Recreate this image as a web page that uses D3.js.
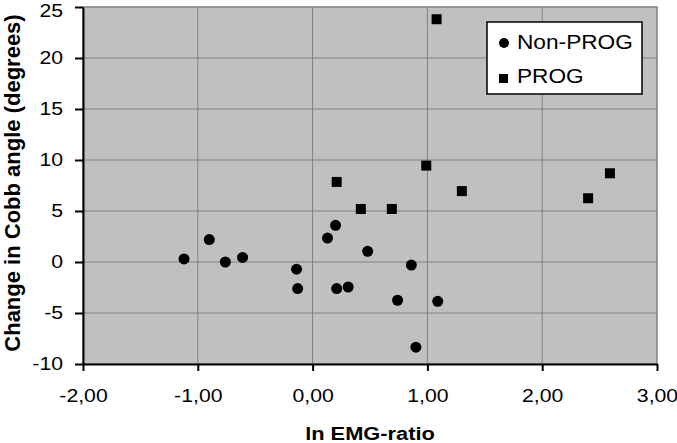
<!DOCTYPE html>
<html><head><meta charset="utf-8">
<script src="https://cdn.jsdelivr.net/npm/d3@7"></script>
<style>body{margin:0;background:#fff}svg{display:block}text{font-family:"Liberation Sans",Arial,sans-serif;fill:#000}</style>
</head><body>
<script>
const nonProgX = [-1.12,-0.90,-0.76,-0.61,-0.14,-0.13,0.13,0.20,0.21,0.31,0.48,0.74,0.86,0.90,1.09];
const nonProgY = [0.3,2.2,0.0,0.45,-0.7,-2.6,2.35,3.6,-2.6,-2.45,1.05,-3.75,-0.3,-8.35,-3.85];
const progX = [1.08,0.21,0.42,0.69,0.99,1.30,2.40,2.59];
const progY = [23.8,7.85,5.2,5.2,9.45,6.95,6.25,8.7];
const xTicks = [-2,-1,0,1,2,3];
const yTicks = [-10,-5,0,5,10,15,20,25];
const seriesNames = ["Non-PROG","PROG"];
const xTitle = "ln EMG-ratio";
const yTitle = "Change in Cobb angle (degrees)";

const W=677,H=443, SX=1.18;
const m={l:83,r:20,t:7,b:79};
const svg=d3.select("body").append("svg").attr("width",W).attr("height",H);
const x=d3.scaleLinear().domain([-2,3]).range([m.l,W-m.r]);
const y=d3.scaleLinear().domain([-10,25]).range([H-m.b,m.t]);
const loc=d3.formatLocale({decimal:",",thousands:".",grouping:[3],currency:["",""],minus:"-"});
const fx=loc.format(".2f"), fy=loc.format("d");
const stretch=(ax,s=SX)=>`translate(${ax},0) scale(${s},1) translate(${-ax},0)`;

svg.append("rect").attr("x",x(-2)).attr("y",y(25)).attr("width",x(3)-x(-2)).attr("height",y(-10)-y(25))
  .attr("fill","#c0c0c0").attr("stroke","#808080").attr("stroke-width",1.5);
const g=svg.append("g");
g.selectAll(".gx").data(xTicks.slice(1,-1)).join("line").attr("x1",d=>x(d)).attr("x2",d=>x(d))
  .attr("y1",y(-10)).attr("y2",y(25)).attr("stroke","#808080").attr("stroke-width",1);
g.selectAll(".gy").data(yTicks.slice(1,-1)).join("line").attr("y1",d=>y(d)).attr("y2",d=>y(d))
  .attr("x1",x(-2)).attr("x2",x(3)).attr("stroke","#808080").attr("stroke-width",1);

const xa=svg.append("g").attr("transform",`translate(0,${y(-10)})`)
  .call(d3.axisBottom(x).tickValues(xTicks).tickFormat(fx).tickSizeInner(7).tickSizeOuter(0).tickPadding(18));
const ya=svg.append("g").attr("transform",`translate(${x(-2)},0)`)
  .call(d3.axisLeft(y).tickValues(yTicks).tickFormat(fy).tickSizeInner(8).tickSizeOuter(0).tickPadding(12));
[xa,ya].forEach(a=>{a.selectAll("path,line").attr("stroke","#000").attr("stroke-width",2);
  a.selectAll("text").style("font-size","18px").style("font-family",'"Liberation Sans",Arial,sans-serif').attr("fill","#000");});
xa.selectAll("text").attr("transform",stretch(0));
ya.selectAll("text").attr("transform",stretch(-20));
ya.selectAll("text").filter(d=>d===25).attr("dy","0.52em");

svg.selectAll(".c").data(nonProgX.map((v,i)=>[v,nonProgY[i]])).join("circle")
  .attr("cx",d=>x(d[0])).attr("cy",d=>y(d[1])).attr("r",5.5).attr("fill","#000");
svg.selectAll(".s").data(progX.map((v,i)=>[v,progY[i]])).join("rect")
  .attr("x",d=>x(d[0])-5).attr("y",d=>y(d[1])-5).attr("width",10).attr("height",10).attr("fill","#000");

const lg=svg.append("g").attr("transform","translate(487,22)");
lg.append("rect").attr("width",155).attr("height",72).attr("fill","#fff").attr("stroke","#000").attr("stroke-width",1.5);
lg.append("circle").attr("cx",17).attr("cy",21).attr("r",5).attr("fill","#000");
lg.append("rect").attr("x",12).attr("y",52).attr("width",9).attr("height",9).attr("fill","#000");
lg.selectAll(".t").data(seriesNames).join("text").attr("x",30).attr("y",(d,i)=>27+i*34)
  .attr("transform",stretch(30,1.08))
  .style("font-size","21px").text(d=>d);

svg.append("text").attr("x",(x(-2)+x(3))/2).attr("y",440).attr("text-anchor","middle")
  .attr("transform",stretch((x(-2)+x(3))/2))
  .style("font-size","18.5px").style("font-weight","bold").text(xTitle);
svg.append("text").attr("transform",`translate(20,183) rotate(-90)`).attr("text-anchor","middle")
  .style("font-size","22px").style("font-weight","bold").text(yTitle);
</script>
</body></html>
